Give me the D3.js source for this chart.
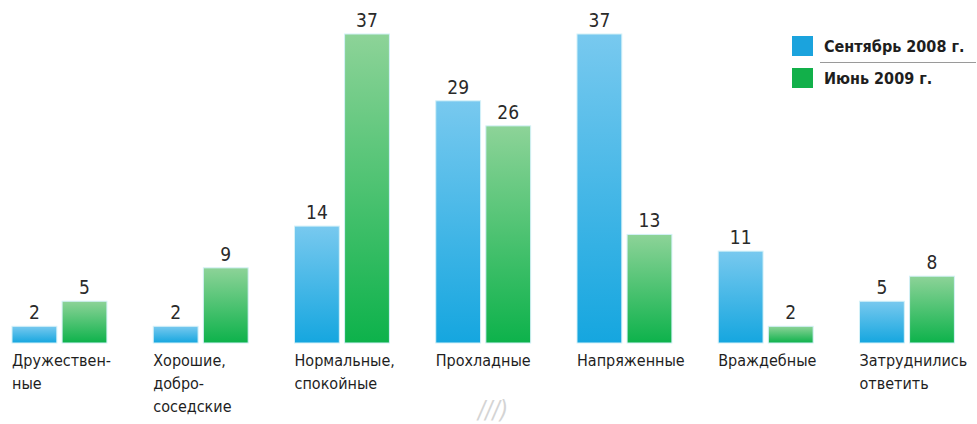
<!DOCTYPE html>
<html><head><meta charset="utf-8">
<script src="https://cdn.jsdelivr.net/npm/d3@7"></script>
<style>
html,body{margin:0;padding:0;background:#fff;}
svg{display:block;}
</style></head>
<body>
<svg id="chart" width="977" height="424"></svg>
<script>
const categories = [
  ["Дружествен-", "ные"],
  ["Хорошие,", "добро-", "соседские"],
  ["Нормальные,", "спокойные"],
  ["Прохладные"],
  ["Напряженные"],
  ["Враждебные"],
  ["Затруднились", "ответить"]
];
const seriesNames = ["Сентябрь 2008 г.", "Июнь 2009 г."];
const sep2008 = [2, 2, 14, 29, 37, 11, 5];
const jun2009 = [5, 9, 37, 26, 13, 2, 8];

const font = "'Liberation Sans Narrow','DejaVu Sans Condensed','Roboto Condensed',sans-serif";
const svg = d3.select("#chart");
const defs = svg.append("defs");
function grad(id, top, bottom){
  const g = defs.append("linearGradient").attr("id", id).attr("x1",0).attr("y1",0).attr("x2",0).attr("y2",1);
  g.append("stop").attr("offset","0%").attr("stop-color",top);
  g.append("stop").attr("offset","100%").attr("stop-color",bottom);
}
grad("gBlue", "#78c9ef", "#15a6df");
grad("gGreen", "#8dd398", "#0db24b");
const fills = ["url(#gBlue)", "url(#gGreen)"];
const solid = ["#1ba3dd", "#12b04a"];

const keys = categories.map((c,i)=>i);
const x0 = d3.scaleBand().domain(keys).range([12, 954.4]).paddingInner(0.328).paddingOuter(0);
const x1 = d3.scaleBand().domain([0,1]).range([0, x0.bandwidth()]).paddingInner(0.105).paddingOuter(0);
const y = d3.scaleLinear().domain([0, 37]).range([343, 34]);

const data = keys.map(i => [sep2008[i], jun2009[i]]);

const groups = svg.append("g").selectAll("g").data(data).join("g")
  .attr("transform", (d,i)=>`translate(${x0(i)},0)`);

groups.selectAll("rect").data(d=>d.map((v,s)=>({v,s}))).join("rect")
  .attr("x", d=>x1(d.s))
  .attr("y", d=>y(d.v))
  .attr("width", x1.bandwidth())
  .attr("height", d=>y(0)-y(d.v))
  .attr("fill", d=>fills[d.s])
  .attr("stroke", "#d4f1f8").attr("stroke-width", 1);

groups.selectAll("text.val").data(d=>d.map((v,s)=>({v,s}))).join("text")
  .attr("class","val")
  .attr("x", d=>x1(d.s)+x1.bandwidth()/2)
  .attr("y", d=>y(d.v)-7)
  .attr("text-anchor","middle")
  .attr("font-family", font).attr("font-size", 19).attr("fill","#2a2a2a")
  .text(d=>d.v);

groups.append("text")
  .attr("x", 0).attr("y", 366)
  .attr("font-family", font).attr("font-size", 16).attr("fill","#1e1e1e")
  .selectAll("tspan").data((d,i)=>categories[i]).join("tspan")
  .attr("x", 0).attr("dy", (d,j)=> j===0 ? 0 : 23)
  .text(d=>d);

// legend
const leg = svg.append("g");
seriesNames.forEach((name, i) => {
  const yy = 36 + i*32;
  leg.append("rect").attr("x", 792).attr("y", yy).attr("width", 21).attr("height", 20).attr("fill", solid[i]);
  leg.append("text").attr("x", 824).attr("y", yy+16)
    .attr("font-family", font).attr("font-size", 16).attr("font-weight","bold").attr("fill","#1e1e1e")
    .text(name);
});
leg.append("line").attr("x1", 820).attr("x2", 976).attr("y1", 62.5).attr("y2", 62.5)
  .attr("stroke", "#9a9a9a").attr("stroke-width", 1);

// faint watermark
svg.append("text").attr("x", 478).attr("y", 418)
  .attr("font-family", font).attr("font-size", 24).attr("font-style","italic")
  .attr("fill", "#d4d4d4").text("///)");
</script>
</body></html>
